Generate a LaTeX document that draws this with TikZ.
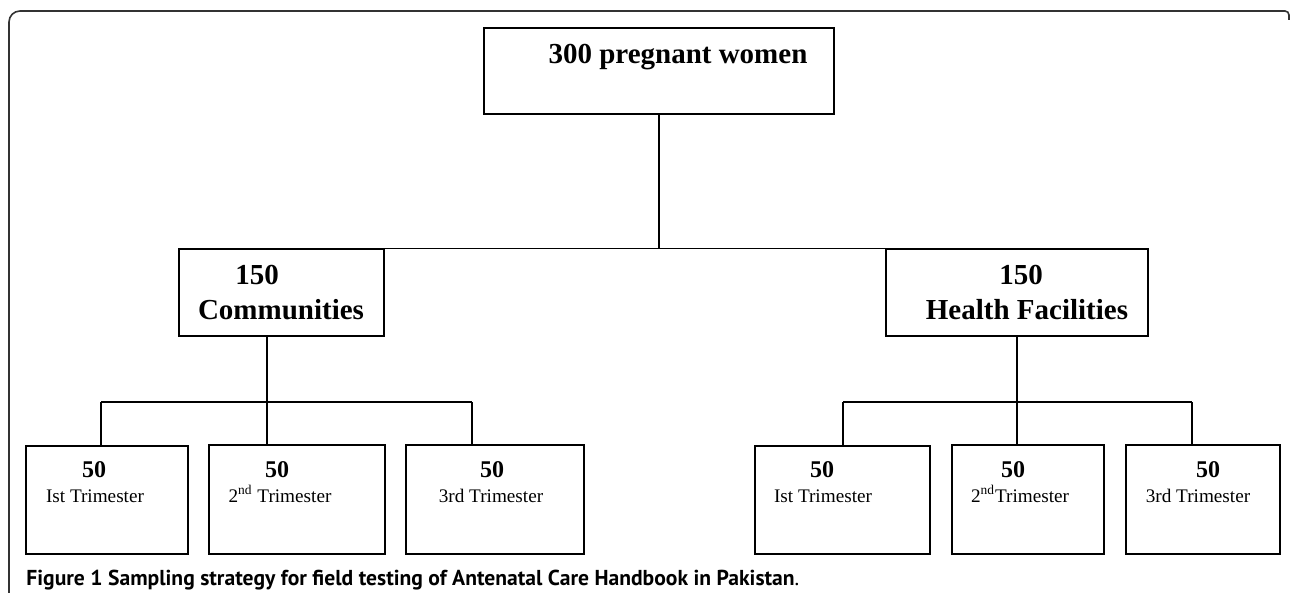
\documentclass[tikz,border=0pt]{standalone}
\usepackage{fontspec}
\setmainfont{Liberation Serif}
\newfontfamily\capfont{PT Sans}
\begin{document}
\begin{tikzpicture}[x=0.5pt,y=-0.5pt,
  box/.style={draw=black, line width=0.8pt, inner sep=0pt, rectangle},
  link/.style={draw=black, line width=0.6pt},
  big/.style={font=\fontsize{14.5}{16}\selectfont\bfseries, inner sep=0pt, anchor=base},
  num/.style={font=\fontsize{12}{14}\selectfont\bfseries, inner sep=0pt, anchor=base},
  sub/.style={font=\fontsize{9.6}{11}\selectfont, inner sep=0pt, anchor=base}]
\useasboundingbox (0,0) rectangle (1290,593);
% frame
\draw[line width=0.8pt, draw=black!80] (9,593) [rounded corners=5.5pt] -- (9,11) [rounded corners=2pt] -- (1289,11) -- (1289,20);
% boxes
\node[box, minimum width=175pt, minimum height=43pt] (top) at (659,71) {};
\node[box, minimum width=102.5pt, minimum height=43.5pt] (comm) at (281.5,292.5) {};
\node[box, minimum width=131pt, minimum height=43.5pt] (hf) at (1017,292.5) {};
\node[box, minimum width=81pt, minimum height=54pt] (b1) at (107,500) {};
\node[box, minimum width=88pt, minimum height=54.5pt] (b2) at (297,499.5) {};
\node[box, minimum width=89pt, minimum height=54.5pt] (b3) at (495,499.5) {};
\node[box, minimum width=87.5pt, minimum height=54pt] (b4) at (842.5,500) {};
\node[box, minimum width=76pt, minimum height=54.5pt] (b5) at (1028,499.5) {};
\node[box, minimum width=77pt, minimum height=54.5pt] (b6) at (1203,499.5) {};
% texts
\node[big] (ttop) at (678,64) {300 pregnant women};
\node[big] (tc1) at (257,285) {150};
\node[big] (tc2) at (281,320) {Communities};
\node[big] (th1) at (1021,285) {150};
\node[big] (th2) at (1027,320) {Health Facilities};
\node[num] (n1) at (94,477) {50};
\node[sub] (s1) at (95,502) {Ist Trimester};
\node[num] (n2) at (277,477) {50};
\node[sub] (s2) at (280,502) {2\textsuperscript{nd} Trimester};
\node[num] (n3) at (492,477) {50};
\node[sub] (s3) at (491,502) {3rd Trimester};
\node[num] (n4) at (822,477) {50};
\node[sub] (s4) at (823,502) {Ist Trimester};
\node[num] (n5) at (1013,477) {50};
\node[sub] (s5) at (1020,502) {2\textsuperscript{nd}Trimester};
\node[num] (n6) at (1208,477) {50};
\node[sub] (s6) at (1198,502) {3rd Trimester};
% connectors
\coordinate (tj) at (659,249);
\draw[link] (top.south -| tj) -- (tj);
\draw[link] (comm.north east) -- (hf.north west);
\coordinate (cj) at (267,402);
\coordinate (c1) at (101,402);
\coordinate (c3) at (472,402);
\draw[link] (comm.south -| cj) -- (cj);
\draw[link] (c1) -- (c3);
\draw[link] (c1) -- (b1.north -| c1);
\draw[link] (cj) -- (b2.north -| cj);
\draw[link] (c3) -- (b3.north -| c3);
\coordinate (hj) at (1017,402);
\coordinate (h1) at (843,402);
\coordinate (h3) at (1192,402);
\draw[link] (hf.south -| hj) -- (hj);
\draw[link] (h1) -- (h3);
\draw[link] (h1) -- (b4.north -| h1);
\draw[link] (hj) -- (b5.north -| hj);
\draw[link] (h3) -- (b6.north -| h3);
% caption
\node[anchor=base west, inner sep=0pt, font=\capfont\fontsize{10.8}{12}\selectfont\bfseries] (cap) at (26,585) {Figure 1 Sampling strategy for field testing of Antenatal Care Handbook in Pakistan{\mdseries .}};
\end{tikzpicture}
\end{document}
